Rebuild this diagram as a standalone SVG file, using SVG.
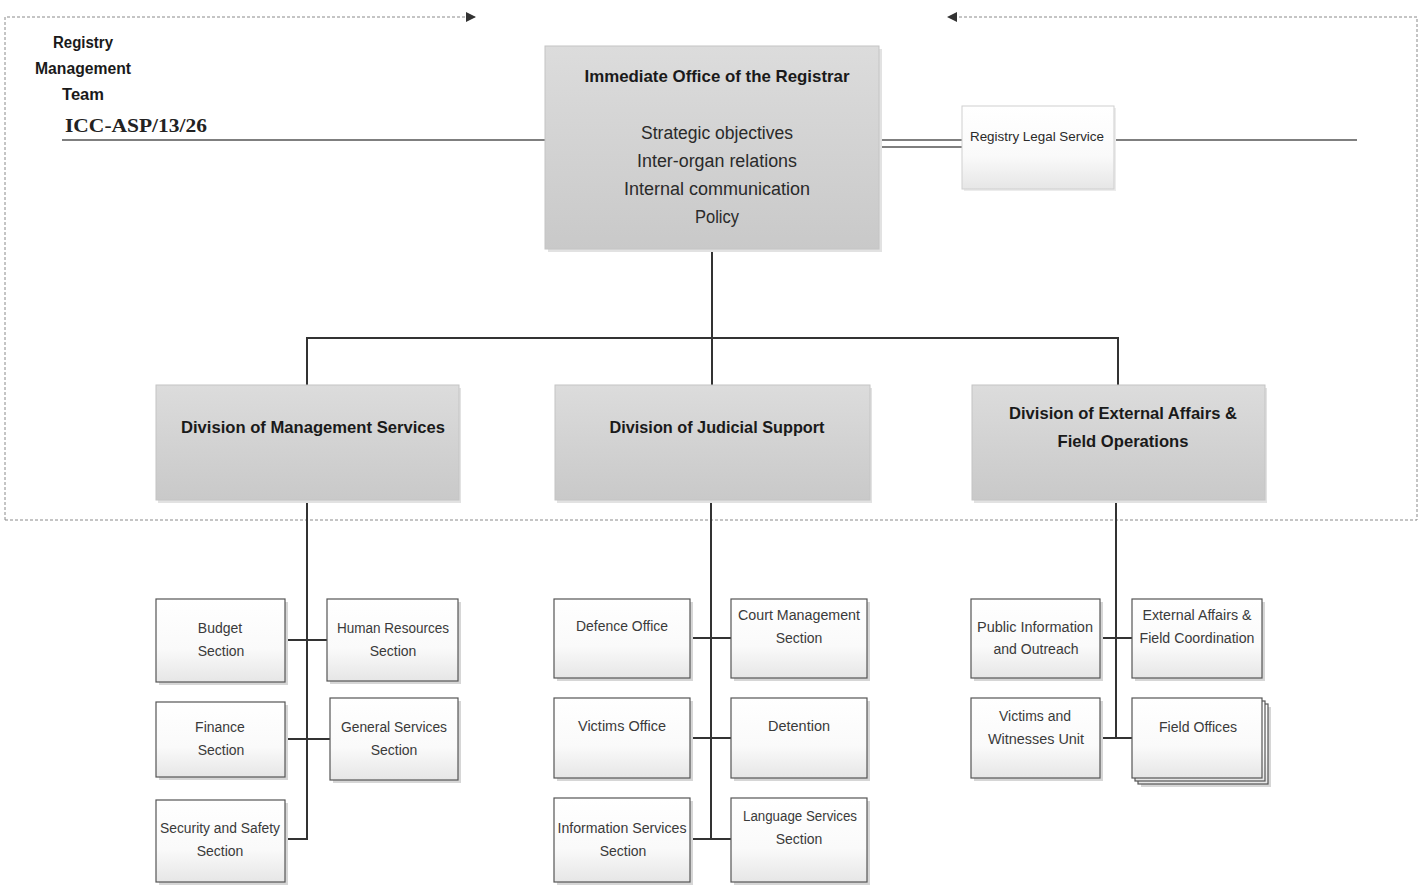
<svg xmlns="http://www.w3.org/2000/svg" width="1423" height="887" viewBox="0 0 1423 887">
<defs>
<linearGradient id="gBig" x1="0" y1="0" x2="0" y2="1"><stop offset="0" stop-color="#dcdcdc"/><stop offset="1" stop-color="#c9c9c9"/></linearGradient>
<linearGradient id="gSmall" x1="0" y1="0" x2="0" y2="1"><stop offset="0" stop-color="#ffffff"/><stop offset="0.6" stop-color="#fafafa"/><stop offset="1" stop-color="#e6e6e6"/></linearGradient>
<marker id="arr" viewBox="0 0 10 10" refX="9" refY="5" markerWidth="10" markerHeight="10" markerUnits="userSpaceOnUse" orient="auto"><path d="M0,0 L10,5 L0,10 Z" fill="#333"/></marker>
<style>
.big{fill:url(#gBig);stroke:#c4c4c4;stroke-width:1}
.bigsh{fill:#e2e2e2}
.sm{fill:url(#gSmall);stroke:#555;stroke-width:1.2}
.smsh{fill:#d6d6d6}
.conn{stroke:#333;stroke-width:2;fill:none}
.thin{stroke:#555;stroke-width:1.5;fill:none}
.dash{stroke:#8a8a8a;stroke-width:1;stroke-dasharray:3 2;fill:none}
.tb{font-family:"Liberation Sans",Arial,sans-serif;font-weight:bold;fill:#1a1a1a;text-anchor:middle}
.tr{font-family:"Liberation Sans",Arial,sans-serif;fill:#2a2a2a;text-anchor:middle}
.ts{font-family:"Liberation Sans",Arial,sans-serif;fill:#3a3a3a;text-anchor:middle;font-size:14px}
</style>
</defs>
<rect width="1423" height="887" fill="#ffffff"/>

<g id="frame">
<path class="dash" d="M5,520 L5,17 L475,17" marker-end="url(#arr)"/>
<path class="dash" d="M5,520 L1417,520 L1417,17 L948,17" marker-end="url(#arr)"/>
</g>

<g id="labels">
<text class="tb" x="83" y="48" font-size="16" textLength="60" lengthAdjust="spacingAndGlyphs">Registry</text>
<text class="tb" x="83" y="74" font-size="16" textLength="96" lengthAdjust="spacingAndGlyphs">Management</text>
<text class="tb" x="83" y="100" font-size="16" textLength="42" lengthAdjust="spacingAndGlyphs">Team</text>
<text x="65" y="132" font-family="'Liberation Serif','Times New Roman',serif" font-weight="bold" font-size="19" fill="#222" textLength="142" lengthAdjust="spacingAndGlyphs">ICC-ASP/13/26</text>
</g>

<g id="connectors">
<line class="thin" x1="62" y1="140" x2="545" y2="140"/>
<line class="thin" x1="880" y1="140" x2="962" y2="140"/>
<line class="thin" x1="880" y1="147" x2="962" y2="147"/>
<line class="thin" x1="1114" y1="140" x2="1357" y2="140"/>
<line class="conn" x1="712" y1="249" x2="712" y2="385"/>
<polyline class="conn" points="307,385 307,338 1118,338 1118,385"/>
<line class="conn" x1="307" y1="500" x2="307" y2="840"/>
<line class="conn" x1="285" y1="640" x2="327" y2="640"/>
<line class="conn" x1="285" y1="739" x2="330" y2="739"/>
<line class="conn" x1="285" y1="839" x2="308" y2="839"/>
<line class="conn" x1="711" y1="500" x2="711" y2="840"/>
<line class="conn" x1="690" y1="638" x2="731" y2="638"/>
<line class="conn" x1="690" y1="738" x2="731" y2="738"/>
<line class="conn" x1="690" y1="839" x2="731" y2="839"/>
<line class="conn" x1="1116" y1="500" x2="1116" y2="739"/>
<line class="conn" x1="1100" y1="638" x2="1132" y2="638"/>
<line class="conn" x1="1100" y1="738" x2="1132" y2="738"/>
</g>

<g id="registrar">
<rect class="bigsh" x="548" y="49" width="334" height="203"/>
<rect class="big" x="545" y="46" width="334" height="203"/>
<text class="tb" x="717" y="82" font-size="17" textLength="265" lengthAdjust="spacingAndGlyphs">Immediate Office of the Registrar</text>
<text class="tr" x="717" y="139" font-size="18" textLength="152" lengthAdjust="spacingAndGlyphs">Strategic objectives</text>
<text class="tr" x="717" y="167" font-size="18" textLength="160" lengthAdjust="spacingAndGlyphs">Inter-organ relations</text>
<text class="tr" x="717" y="195" font-size="18" textLength="186" lengthAdjust="spacingAndGlyphs">Internal communication</text>
<text class="tr" x="717" y="223" font-size="18" textLength="44" lengthAdjust="spacingAndGlyphs">Policy</text>
</g>

<g id="legal">
<rect x="964" y="108" width="152" height="83" fill="#ececec"/>
<rect x="962" y="106" width="152" height="83" fill="url(#gSmall)" stroke="#cfcfcf" stroke-width="1"/>
<text class="tr" x="1037" y="141" font-size="13" textLength="134" lengthAdjust="spacingAndGlyphs">Registry Legal Service</text>
</g>

<g id="dms">
<rect class="bigsh" x="158" y="388" width="303" height="115"/>
<rect class="big" x="156" y="385" width="303" height="115"/>
<text class="tb" x="313" y="433" font-size="17" textLength="264" lengthAdjust="spacingAndGlyphs">Division of Management Services</text>
</g>
<g id="djs">
<rect class="bigsh" x="557" y="388" width="315" height="115"/>
<rect class="big" x="555" y="385" width="315" height="115"/>
<text class="tb" x="717" y="433" font-size="17" textLength="215" lengthAdjust="spacingAndGlyphs">Division of Judicial Support</text>
</g>
<g id="deafo">
<rect class="bigsh" x="974" y="388" width="293" height="115"/>
<rect class="big" x="972" y="385" width="293" height="115"/>
<text class="tb" x="1123" y="419" font-size="17" textLength="228" lengthAdjust="spacingAndGlyphs">Division of External Affairs &amp;</text>
<text class="tb" x="1123" y="447" font-size="17" textLength="131" lengthAdjust="spacingAndGlyphs">Field Operations</text>
</g>

<g id="budget">
<rect class="smsh" x="159" y="602" width="129" height="83"/>
<rect class="sm" x="156" y="599" width="129" height="83"/>
<text class="ts" x="220" y="633">Budget</text>
<text class="ts" x="221" y="656">Section</text>
</g>
<g id="hr">
<rect class="smsh" x="330" y="602" width="131" height="82"/>
<rect class="sm" x="327" y="599" width="131" height="82"/>
<text class="ts" x="393" y="633" textLength="112" lengthAdjust="spacingAndGlyphs">Human Resources</text>
<text class="ts" x="393" y="656">Section</text>
</g>
<g id="finance">
<rect class="smsh" x="159" y="705" width="129" height="75"/>
<rect class="sm" x="156" y="702" width="129" height="75"/>
<text class="ts" x="220" y="732">Finance</text>
<text class="ts" x="221" y="755">Section</text>
</g>
<g id="general">
<rect class="smsh" x="333" y="701" width="128" height="82"/>
<rect class="sm" x="330" y="698" width="128" height="82"/>
<text class="ts" x="394" y="732" textLength="106" lengthAdjust="spacingAndGlyphs">General Services</text>
<text class="ts" x="394" y="755">Section</text>
</g>
<g id="security">
<rect class="smsh" x="159" y="803" width="129" height="82"/>
<rect class="sm" x="156" y="800" width="129" height="82"/>
<text class="ts" x="220" y="833" textLength="120" lengthAdjust="spacingAndGlyphs">Security and Safety</text>
<text class="ts" x="220" y="856">Section</text>
</g>

<g id="defence">
<rect class="smsh" x="557" y="602" width="136" height="79"/>
<rect class="sm" x="554" y="599" width="136" height="79"/>
<text class="ts" x="622" y="631" textLength="92" lengthAdjust="spacingAndGlyphs">Defence Office</text>
</g>
<g id="court">
<rect class="smsh" x="734" y="602" width="136" height="79"/>
<rect class="sm" x="731" y="599" width="136" height="79"/>
<text class="ts" x="799" y="620" textLength="122" lengthAdjust="spacingAndGlyphs">Court Management</text>
<text class="ts" x="799" y="643">Section</text>
</g>
<g id="victims-office">
<rect class="smsh" x="557" y="701" width="136" height="80"/>
<rect class="sm" x="554" y="698" width="136" height="80"/>
<text class="ts" x="622" y="731" textLength="88" lengthAdjust="spacingAndGlyphs">Victims Office</text>
</g>
<g id="detention">
<rect class="smsh" x="734" y="701" width="136" height="80"/>
<rect class="sm" x="731" y="698" width="136" height="80"/>
<text class="ts" x="799" y="731" textLength="62" lengthAdjust="spacingAndGlyphs">Detention</text>
</g>
<g id="info">
<rect class="smsh" x="557" y="801" width="136" height="84"/>
<rect class="sm" x="554" y="798" width="136" height="84"/>
<text class="ts" x="622" y="833" textLength="129" lengthAdjust="spacingAndGlyphs">Information Services</text>
<text class="ts" x="623" y="856">Section</text>
</g>
<g id="language">
<rect class="smsh" x="734" y="801" width="136" height="84"/>
<rect class="sm" x="731" y="798" width="136" height="84"/>
<text class="ts" x="800" y="821" textLength="114" lengthAdjust="spacingAndGlyphs">Language Services</text>
<text class="ts" x="799" y="844">Section</text>
</g>

<g id="public">
<rect class="smsh" x="974" y="602" width="129" height="79"/>
<rect class="sm" x="971" y="599" width="129" height="79"/>
<text class="ts" x="1035" y="632" textLength="116" lengthAdjust="spacingAndGlyphs">Public Information</text>
<text class="ts" x="1036" y="654" textLength="85" lengthAdjust="spacingAndGlyphs">and Outreach</text>
</g>
<g id="external">
<rect class="smsh" x="1135" y="602" width="130" height="79"/>
<rect class="sm" x="1132" y="599" width="130" height="79"/>
<text class="ts" x="1197" y="620" textLength="109" lengthAdjust="spacingAndGlyphs">External Affairs &amp;</text>
<text class="ts" x="1197" y="643" textLength="115" lengthAdjust="spacingAndGlyphs">Field Coordination</text>
</g>
<g id="vwu">
<rect class="smsh" x="974" y="701" width="129" height="80"/>
<rect class="sm" x="971" y="698" width="129" height="80"/>
<text class="ts" x="1035" y="721" textLength="72" lengthAdjust="spacingAndGlyphs">Victims and</text>
<text class="ts" x="1036" y="744" textLength="96" lengthAdjust="spacingAndGlyphs">Witnesses Unit</text>
</g>
<g id="field-offices">
<rect class="smsh" x="1141" y="707" width="130" height="80"/>
<rect class="sm" x="1138" y="704" width="130" height="80"/>
<rect class="sm" x="1135" y="701" width="130" height="80"/>
<rect class="sm" x="1132" y="698" width="130" height="80"/>
<text class="ts" x="1198" y="732" textLength="78" lengthAdjust="spacingAndGlyphs">Field Offices</text>
</g>
</svg>
